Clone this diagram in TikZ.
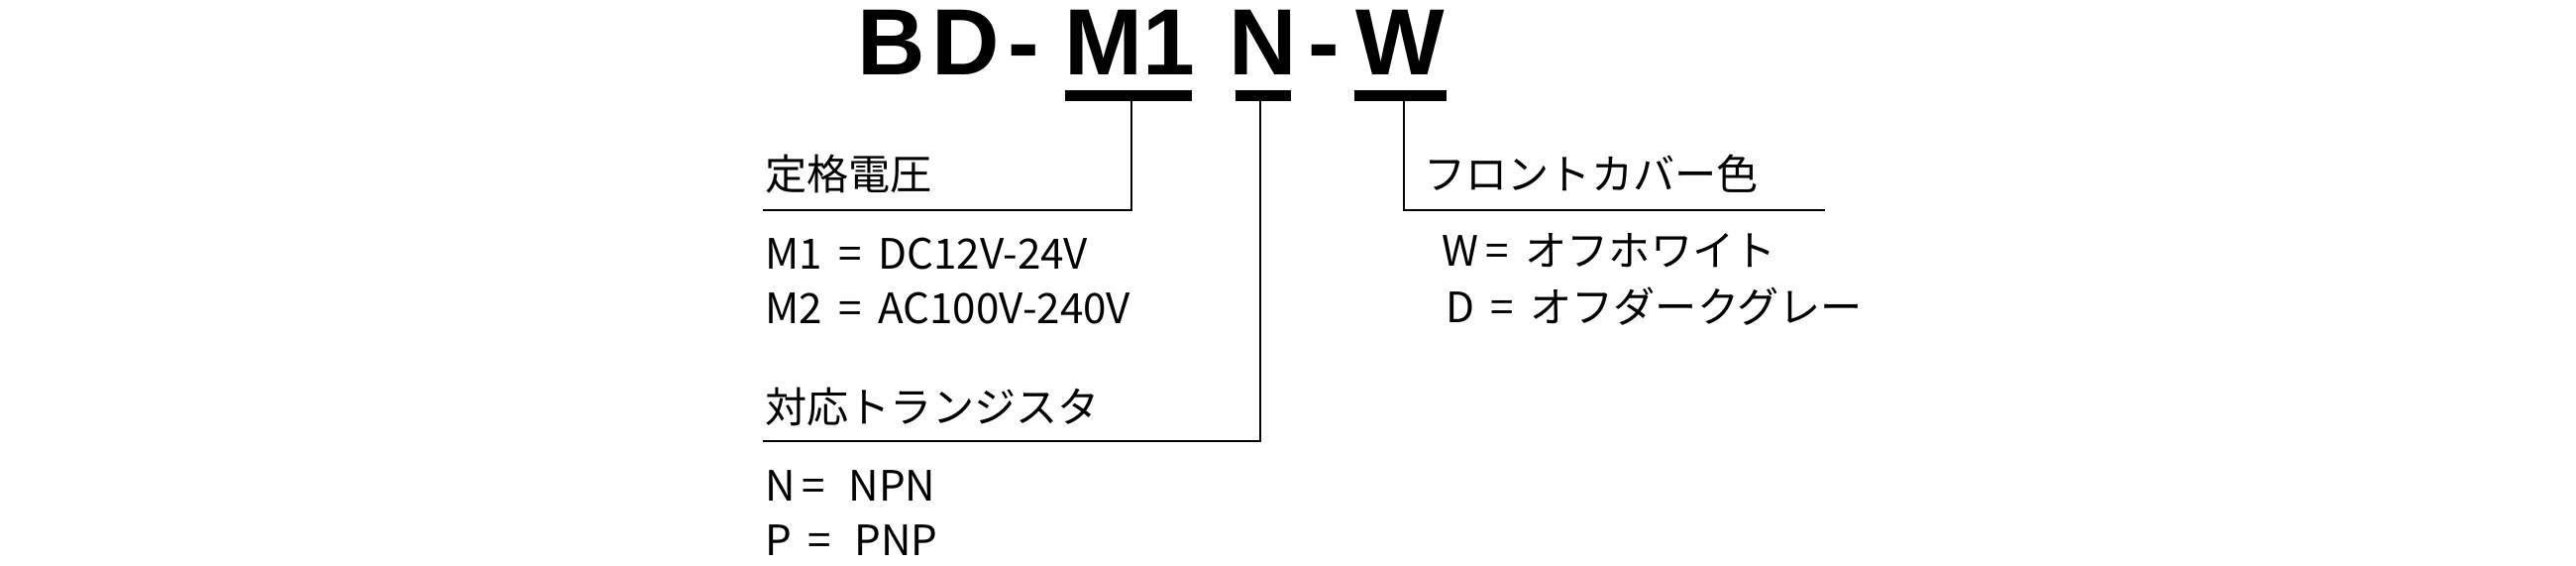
\documentclass[tikz,border=0pt]{standalone}
\usepackage{fontspec}
\setmainfont{Noto Sans CJK JP}
\newfontfamily\titlefont{Liberation Sans}
\usetikzlibrary{positioning}
\begin{document}
\begin{tikzpicture}[x=0.1667mm,y=-0.1667mm]
  \tikzstyle{code} = [anchor=base, inner sep=0pt, font=\titlefont\bfseries\fontsize{27}{27}\selectfont]
  \tikzstyle{txt} = [anchor=base west, inner sep=0pt, font=\fontsize{12}{14}\selectfont]
  \tikzstyle{line} = [semithick]
  \tikzstyle{bar} = [line width=3.2pt]
  \useasboundingbox (0,0) rectangle (1560,342);
  % model code
  \node (cb) [code] at (540,45) {B};
  \node (cd) [code] at (585,45) {D};
  \node (ch1) [code] at (620,45) {-};
  \node (cm) [code] at (684,45) {M1};
  \node (cn) [code] at (765,45) {N};
  \node (ch2) [code] at (802,45) {-};
  \node (cw) [code] at (848,45) {W};
  \coordinate (m1a) at (645,58);
  \coordinate (m1b) at (722,58);
  \coordinate (na) at (748,58);
  \coordinate (nb) at (782,58);
  \coordinate (wa) at (820,58);
  \coordinate (wb) at (876,58);
  \draw [bar] (m1a)--(m1b);
  \draw [bar] (na)--(nb);
  \draw [bar] (wa)--(wb);
  % leaders
  \coordinate (m1c) at (685,127);
  \coordinate (m1e) at (462,127);
  \coordinate (nc) at (763,267);
  \coordinate (ne) at (462,267);
  \coordinate (wc) at (850,127);
  \coordinate (we) at (1105,127);
  \draw [line] (685,59)--(m1c)--(m1e);
  \draw [line] (763,59)--(nc)--(ne);
  \draw [line] (850,59)--(wc)--(we);
  % texts
  \node (volt) [txt] at (463,115) {定格電圧};
  \node (v1) [txt] at (463,163) {M1 \,=\, DC12V-24V};
  \node (v2) [txt] at (463,196) {M2 \,=\, AC100V-240V};
  \node (tr) [txt] at (463,256) {対応トランジスタ};
  \node (t1) [txt] at (463,303) {N\,=\,\, NPN};
  \node (t2) [txt] at (463,336) {P \,=\,\, PNP};
  \node (col) [txt] at (862,115) {フロントカバー色};
  \node (c1) [txt] at (873,161) {W\,=\, オフホワイト};
  \node (c2) [txt] at (875,195) {D \,=\, オフダークグレー};
\end{tikzpicture}
\end{document}
